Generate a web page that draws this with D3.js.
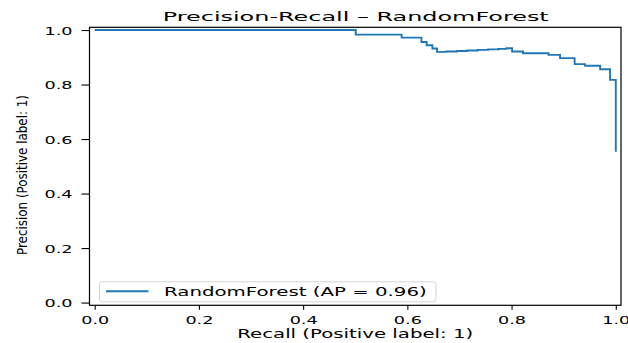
<!DOCTYPE html>
<html>
<head>
<meta charset="utf-8">
<script src="https://cdn.jsdelivr.net/npm/d3@7"></script>
<style>
  html, body { margin: 0; padding: 0; background: #fff; }
  svg { display: block; }
  text { font-family: "DejaVu Sans", sans-serif; fill: #000; }
</style>
</head>
<body>
<svg id="chart" width="628" height="343"></svg>
<script>
// ---- data ----
const recall = [0.0, 0.501, 0.589, 0.627, 0.637, 0.648, 0.657, 0.675, 0.695, 0.715, 0.735, 0.755, 0.775, 0.790, 0.801, 0.822, 0.871, 0.893, 0.921, 0.941, 0.970, 0.989, 1.0];
const precision = [1.0, 0.983, 0.972, 0.956, 0.944, 0.932, 0.920, 0.921, 0.923, 0.925, 0.927, 0.929, 0.931, 0.933, 0.921, 0.915, 0.909, 0.897, 0.875, 0.869, 0.856, 0.817, 0.553];
const xTicks = [0.0, 0.2, 0.4, 0.6, 0.8, 1.0];
const yTicks = [0.0, 0.2, 0.4, 0.6, 0.8, 1.0];
const titleText = "Precision-Recall \u2013 RandomForest";
const xLabelText = "Recall (Positive label: 1)";
const yLabelText = "Precision (Positive label: 1)";
const legendText = "RandomForest (AP = 0.96)";

// ---- layout ----
const axLeft = 89.5, axRight = 621, axTop = 27.3, axBottom = 305.3;
const color = "#1f77b4";

const svg = d3.select("#chart");
const x = d3.scaleLinear().domain([-0.01, 1.01]).range([axLeft, axRight]);
const y = d3.scaleLinear().domain([-0.01, 1.01]).range([axBottom, axTop]);

const pts = recall.map((r, i) => [r, precision[i]]);

// curve
const line = d3.line().x(d => x(d[0])).y(d => y(d[1])).curve(d3.curveStepAfter);
svg.append("path")
  .datum(pts)
  .attr("d", line)
  .attr("fill", "none")
  .attr("stroke", color)
  .attr("stroke-width", 1.9)
  .attr("stroke-linejoin", "miter");

// x axis
const xAxis = d3.axisBottom(x).tickValues(xTicks).tickSize(4.5).tickPadding(0).tickFormat(d3.format(".1f"));
const gx = svg.append("g").attr("transform", `translate(0,${axBottom})`).call(xAxis);
gx.select(".domain").remove();
gx.selectAll(".tick line").attr("stroke", "#000").attr("stroke-width", 1.1);
gx.selectAll(".tick text")
  .attr("font-family", "DejaVu Sans")
  .attr("font-size", 11)
  .attr("dy", null)
  .attr("y", 19)
  .attr("textLength", 28)
  .attr("lengthAdjust", "spacingAndGlyphs")
  .attr("fill", "#000");

// y axis
const yAxis = d3.axisLeft(y).tickValues(yTicks).tickSize(8).tickPadding(0).tickFormat(d3.format(".1f"));
const gy = svg.append("g").attr("transform", `translate(${axLeft},0)`).call(yAxis);
gy.select(".domain").remove();
gy.selectAll(".tick line").attr("stroke", "#000").attr("stroke-width", 1.1);
gy.selectAll(".tick text")
  .attr("font-family", "DejaVu Sans")
  .attr("font-size", 11)
  .attr("dy", null)
  .attr("x", -17)
  .attr("y", 4)
  .attr("text-anchor", "end")
  .attr("textLength", 28)
  .attr("lengthAdjust", "spacingAndGlyphs")
  .attr("fill", "#000");

// spines
svg.append("rect")
  .attr("x", axLeft).attr("y", axTop)
  .attr("width", axRight - axLeft).attr("height", axBottom - axTop)
  .attr("fill", "none").attr("stroke", "#000").attr("stroke-width", 1.2);

// title
const cx = (axLeft + axRight) / 2;
svg.append("text")
  .attr("x", cx + 0.5).attr("y", 21)
  .attr("text-anchor", "middle")
  .attr("font-size", 13)
  .attr("textLength", 386)
  .attr("lengthAdjust", "spacingAndGlyphs")
  .text(titleText);

// x label
svg.append("text")
  .attr("x", cx).attr("y", 338)
  .attr("text-anchor", "middle")
  .attr("font-size", 11.5)
  .attr("textLength", 236)
  .attr("lengthAdjust", "spacingAndGlyphs")
  .text(xLabelText);

// y label
svg.append("text")
  .attr("transform", "translate(27.3,175) rotate(-90)")
  .attr("text-anchor", "middle")
  .attr("font-family", "DejaVu Sans Condensed, DejaVu Sans")
  .attr("font-size", 14.5)
  .attr("textLength", 160)
  .attr("lengthAdjust", "spacingAndGlyphs")
  .text(yLabelText);

// legend
const lg = svg.append("g");
lg.append("rect")
  .attr("x", 99.5).attr("y", 281.8)
  .attr("width", 336.5).attr("height", 20)
  .attr("rx", 2.5).attr("ry", 2.5)
  .attr("fill", "rgba(255,255,255,0.8)")
  .attr("stroke", "#d4d4d4").attr("stroke-width", 1);
lg.append("line")
  .attr("x1", 106).attr("x2", 148.5)
  .attr("y1", 291.2).attr("y2", 291.2)
  .attr("stroke", color).attr("stroke-width", 1.9);
lg.append("text")
  .attr("x", 164).attr("y", 295.5)
  .attr("font-size", 12)
  .attr("textLength", 262.7)
  .attr("lengthAdjust", "spacingAndGlyphs")
  .text(legendText);
</script>
</body>
</html>
